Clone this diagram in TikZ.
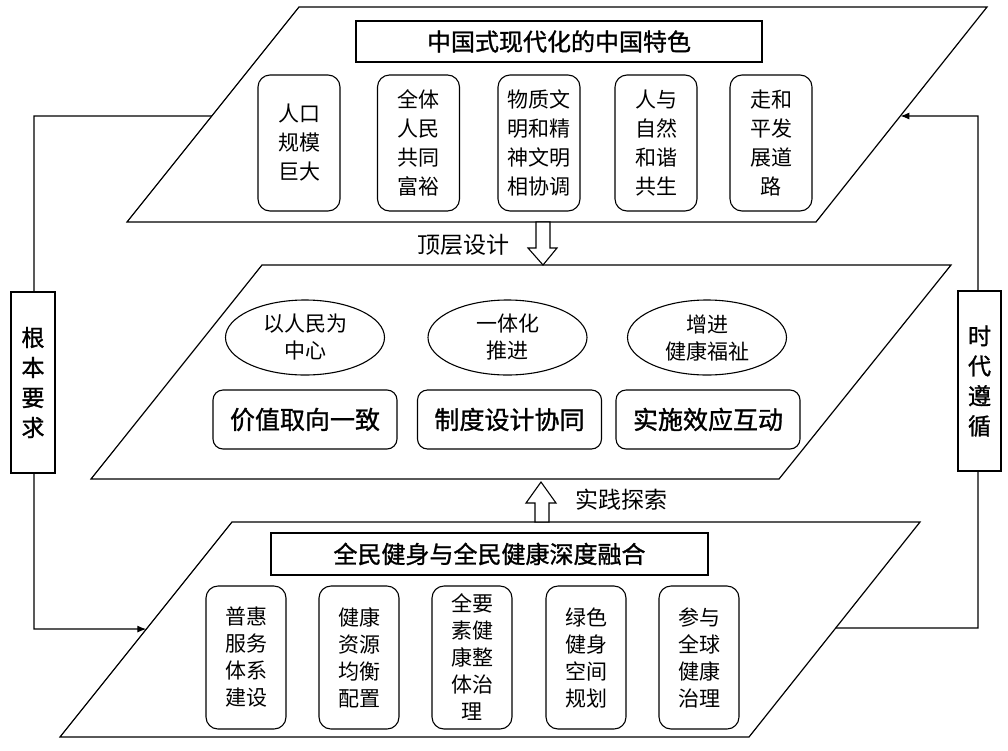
\documentclass[tikz,border=0pt]{standalone}
\usepackage{fontspec}
\newfontfamily\cjk{Noto Sans CJK SC}
\newfontfamily\cjkm[FakeBold=1.2]{Noto Sans CJK SC}
\usetikzlibrary{shapes.geometric,arrows.meta,calc}
\begin{document}
\begin{tikzpicture}[x=1pt,y=-1pt,
  plane/.style={draw,line width=1.2pt,fill=white},
  titlebox/.style={draw,line width=1.2pt,fill=white,inner sep=0pt,font=\cjkm\fontsize{24}{28}\selectfont},
  sbox/.style={draw,line width=1.1pt,rounded corners=12pt,minimum width=82pt,minimum height=136pt,inner sep=0pt,align=center,font=\cjk\fontsize{21}{29}\selectfont},
  bbox/.style={sbox,minimum width=80pt,minimum height=143pt,font=\cjk\fontsize{21}{27}\selectfont},
  oval/.style={draw,ellipse,line width=1.1pt,minimum width=159pt,minimum height=75pt,inner sep=0pt,align=center,font=\cjk\fontsize{21}{27}\selectfont},
  midbox/.style={draw,line width=1.1pt,rounded corners=10pt,minimum width=184pt,minimum height=59pt,inner sep=0pt,font=\cjkm\fontsize{25}{28}\selectfont},
  sidebox/.style={draw,line width=1.1pt,fill=white,minimum width=44pt,minimum height=181pt,inner sep=0pt,align=center,font=\cjkm\fontsize{23}{30}\selectfont},
  lbl/.style={font=\cjk\fontsize{23}{26}\selectfont,inner sep=0pt},
  conn/.style={line width=1.2pt,-{Latex[length=9pt,width=7pt]}},
  hollow/.style={draw,line width=1.1pt,fill=white}
]
\useasboundingbox (0,0) rectangle (1008,750);

% planes
\coordinate (Atl) at (299,7);  \coordinate (Atr) at (987,7);
\coordinate (Abr) at (816,222); \coordinate (Abl) at (127,222);
\coordinate (Btl) at (262,265); \coordinate (Btr) at (951,265);
\coordinate (Bbr) at (779,479); \coordinate (Bbl) at (91,479);
\coordinate (Ctl) at (232,522); \coordinate (Ctr) at (920,522);
\coordinate (Cbr) at (749,737); \coordinate (Cbl) at (60,737);
\draw[plane] (Atl) -- (Atr) -- (Abr) -- (Abl) -- cycle;
\draw[plane] (Btl) -- (Btr) -- (Bbr) -- (Bbl) -- cycle;
\draw[plane] (Ctl) -- (Ctr) -- (Cbr) -- (Cbl) -- cycle;

% top plane
\node[titlebox,minimum width=406pt,minimum height=41pt] (t1) at (559,41.5) {中国式现代化的中国特色};
\node[sbox] (a1) at (299,143) {人口\\规模\\巨大};
\node[sbox] (a2) at (418.5,143) {全体\\人民\\共同\\富裕};
\node[sbox] (a3) at (539,143) {物质文\\明和精\\神文明\\相协调};
\node[sbox] (a4) at (656,143) {人与\\自然\\和谐\\共生};
\node[sbox] (a5) at (771,143) {走和\\平发\\展道\\路};

% middle plane
\node[oval] (e1) at (305,337.5) {以人民为\\中心};
\node[oval] (e2) at (507.5,337.5) {一体化\\推进};
\node[oval] (e3) at (707,337.5) {增进\\健康福祉};
\node[midbox] (m1) at (305,419.5) {价值取向一致};
\node[midbox] (m2) at (509.5,419.5) {制度设计协同};
\node[midbox] (m3) at (708,419.5) {实施效应互动};

% bottom plane
\node[titlebox,minimum width=437pt,minimum height=42pt] (t3) at (489.5,554) {全民健身与全民健康深度融合};
\node[bbox] (c1) at (246,657.5) {普惠\\服务\\体系\\建设};
\node[bbox] (c2) at (359,657.5) {健康\\资源\\均衡\\配置};
\node[bbox] (c3) at (472,657.5) {全要\\素健\\康整\\体治\\理};
\node[bbox] (c4) at (586,657.5) {绿色\\健身\\空间\\规划};
\node[bbox] (c5) at (699,657.5) {参与\\全球\\健康\\治理};

% hollow arrows between planes
\draw[hollow] (536,222) -- (550,222) -- (550,248) -- (557,248) -- (543,265) -- (528,248) -- (536,248) -- cycle;
\node[lbl] (lt) at (463,245) {顶层设计};
\draw[hollow] (535,522) -- (549,522) -- (549,503) -- (556,503) -- (541,482) -- (526,503) -- (535,503) -- cycle;
\node[lbl] (lb) at (621.5,500) {实践探索};

% side connectors
\coordinate (pA) at ($(Atl)!0.507!(Abl)$);
\coordinate (pC) at ($(Ctl)!0.498!(Cbl)$);
\coordinate (qC) at ($(Ctr)!0.493!(Cbr)$);
\coordinate (qA) at ($(Atr)!0.507!(Abr)$);
\coordinate (L1) at (34,116); \coordinate (L2) at (34,629);
\coordinate (R1) at (978,628); \coordinate (R2) at (978,116);
\draw[conn] (pA) -- (L1) -- (L2) -- (pC);
\draw[conn] (qC) -- (R1) -- (R2) -- (qA);
\node[sidebox] (sl) at (33,382.5) {根\\本\\要\\求};
\node[sidebox,minimum width=43pt,minimum height=180pt] (sr) at (979.5,381) {时\\代\\遵\\循};
\end{tikzpicture}
\end{document}
